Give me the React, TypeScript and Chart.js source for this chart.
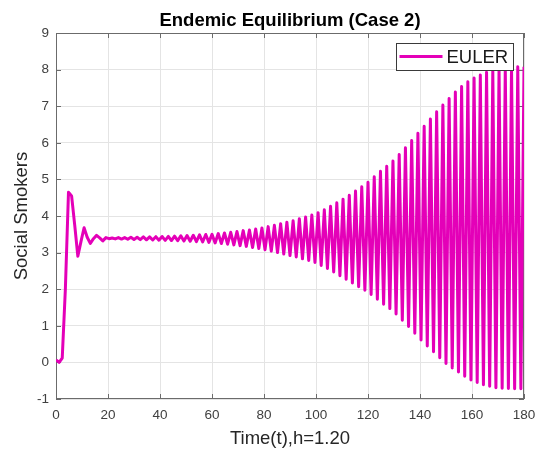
import React, { useEffect, useRef } from "react";
import { Chart, registerables } from "chart.js";

Chart.register(...registerables);

// Euler step size used for the time grid
const STEP = 1.2;

// Social smokers S(t) at t = 0, 1.2, 2.4, ... 180
const socialSmokers = [
  0.07, 0.0, 0.12, 2.0, 4.65, 4.55, 3.75, 2.9, 3.3, 3.68,
  3.42, 3.25, 3.38, 3.47, 3.4, 3.32, 3.41, 3.38, 3.4, 3.375,
  3.41, 3.37, 3.41, 3.365, 3.42, 3.36, 3.42, 3.355, 3.43, 3.35,
  3.43, 3.345, 3.435, 3.34, 3.44, 3.335, 3.445, 3.33, 3.45, 3.325,
  3.46, 3.315, 3.465, 3.31, 3.475, 3.3, 3.485, 3.29, 3.495, 3.28,
  3.5, 3.265, 3.52, 3.25, 3.535, 3.23, 3.555, 3.21, 3.575, 3.19,
  3.6, 3.17, 3.62, 3.14, 3.645, 3.11, 3.675, 3.08, 3.71, 3.04,
  3.745, 3.0, 3.79, 2.96, 3.83, 2.92, 3.87, 2.88, 3.925, 2.83,
  3.97, 2.785, 4.025, 2.73, 4.09, 2.65, 4.17, 2.565, 4.265, 2.47,
  4.36, 2.37, 4.46, 2.27, 4.565, 2.17, 4.68, 2.07, 4.8, 1.97,
  4.92, 1.855, 5.07, 1.725, 5.22, 1.59, 5.36, 1.47, 5.5, 1.32,
  5.68, 1.15, 5.865, 0.98, 6.06, 0.795, 6.26, 0.61, 6.45, 0.45,
  6.65, 0.29, 6.85, 0.125, 7.035, -0.03, 7.21, -0.15, 7.385, -0.26,
  7.535, -0.38, 7.665, -0.48, 7.77, -0.55, 7.855, -0.61, 7.925, -0.65,
  7.97, -0.69, 8.02, -0.705, 8.05, -0.715, 8.065, -0.72, 8.075, -0.72,
  8.08,
];

const times = socialSmokers.map((_, i) => i * STEP);

const xTicks = [0, 20, 40, 60, 80, 100, 120, 140, 160, 180];
const yTicks = [-1, 0, 1, 2, 3, 4, 5, 6, 7, 8, 9];

const TITLE = "Endemic Equilibrium (Case 2)";
const X_LABEL = "Time(t),h=1.20";
const Y_LABEL = "Social Smokers";
const SERIES_NAME = "EULER";

const FONT = '"Liberation Sans", Arial, Helvetica, sans-serif';
const LINE_COLOR = "rgb(228,0,184)";
const AXIS_COLOR = "#6b6b6b";
const GRID_COLOR = "#e4e4e4";
const TEXT_COLOR = "#262626";
const TICK_TEXT = "#404040";

const axesFrame = {
  id: "axesFrame",
  beforeDatasetsDraw(chart: any) {
    const { ctx, chartArea } = chart;
    const { left, right, top, bottom } = chartArea;
    const xs = chart.scales.x;
    const ys = chart.scales.y;
    ctx.save();
    ctx.strokeStyle = AXIS_COLOR;
    ctx.lineWidth = 1;
    ctx.strokeRect(Math.round(left) + 0.5, Math.round(top) + 0.5, Math.round(right - left) - 1, Math.round(bottom - top) - 1);
    const len = 5;
    ctx.beginPath();
    xTicks.forEach((v) => {
      const px = Math.round(xs.getPixelForValue(v)) + 0.5;
      ctx.moveTo(px, bottom);
      ctx.lineTo(px, bottom - len);
      ctx.moveTo(px, top);
      ctx.lineTo(px, top + len);
    });
    yTicks.forEach((v) => {
      const py = Math.round(ys.getPixelForValue(v)) + 0.5;
      ctx.moveTo(left, py);
      ctx.lineTo(left + len, py);
      ctx.moveTo(right, py);
      ctx.lineTo(right - len, py);
    });
    ctx.stroke();
    ctx.restore();
  },
  afterDatasetsDraw(chart: any) {
    const { ctx, chartArea } = chart;
    const { left, right, top, bottom } = chartArea;
    const cx = (left + right) / 2;
    ctx.save();
    // title
    ctx.fillStyle = "#000";
    ctx.font = `bold 18.5px ${FONT}`;
    ctx.textAlign = "center";
    ctx.textBaseline = "middle";
    ctx.fillText(TITLE, cx, 21);
    // axis labels
    ctx.fillStyle = TEXT_COLOR;
    ctx.font = `18.5px ${FONT}`;
    ctx.fillText(X_LABEL, cx, 439);
    ctx.save();
    ctx.translate(22, (top + bottom) / 2);
    ctx.rotate(-Math.PI / 2);
    ctx.fillText(Y_LABEL, 0, 0);
    ctx.restore();
    // legend
    const bx = 396.5, by = 43.5, bw = 117, bh = 27;
    ctx.fillStyle = "#fff";
    ctx.fillRect(bx, by, bw, bh);
    ctx.strokeStyle = "#3a3a3a";
    ctx.lineWidth = 1;
    ctx.strokeRect(bx, by, bw, bh);
    ctx.strokeStyle = LINE_COLOR;
    ctx.lineWidth = 3;
    ctx.beginPath();
    ctx.moveTo(bx + 3, by + 13);
    ctx.lineTo(bx + 46, by + 13);
    ctx.stroke();
    ctx.fillStyle = "#1a1a1a";
    ctx.textAlign = "left";
    ctx.textBaseline = "middle";
    ctx.fillText(SERIES_NAME, bx + 50, by + 14);
    ctx.restore();
  },
};

export default function App() {
  const canvasRef = useRef<HTMLCanvasElement | null>(null);

  useEffect(() => {
    const canvas = canvasRef.current;
    if (!canvas) return;
    const chart = new Chart(canvas, {
      type: "line",
      data: {
        datasets: [
          {
            label: SERIES_NAME,
            data: times.map((t, i) => ({ x: t, y: socialSmokers[i] })),
            borderColor: LINE_COLOR,
            backgroundColor: LINE_COLOR,
            borderWidth: 3,
            pointRadius: 0,
            tension: 0,
            borderJoinStyle: "round",
            fill: false,
          },
        ],
      },
      options: {
        animation: false,
        responsive: false,
        devicePixelRatio: 1,
        layout: { padding: { top: 33, right: 21, left: 0, bottom: 0 } },
        plugins: {
          legend: { display: false },
          title: { display: false },
          tooltip: { enabled: false },
        },
        scales: {
          x: {
            type: "linear",
            min: 0,
            max: 180,
            afterFit: (s: any) => {
              s.height = 55;
            },
            ticks: {
              stepSize: 20,
              autoSkip: false,
              maxRotation: 0,
              padding: 8,
              color: TICK_TEXT,
              font: { family: FONT, size: 13.5 },
            },
            grid: { color: GRID_COLOR, drawTicks: false },
            border: { display: false },
          },
          y: {
            type: "linear",
            min: -1,
            max: 9,
            afterFit: (s: any) => {
              s.width = 56;
            },
            ticks: {
              stepSize: 1,
              autoSkip: false,
              padding: 7,
              color: TICK_TEXT,
              font: { family: FONT, size: 13.5 },
            },
            grid: { color: GRID_COLOR, drawTicks: false },
            border: { display: false },
          },
        },
      },
      plugins: [axesFrame],
    });
    return () => chart.destroy();
  }, []);

  return (
    <div style={{ position: "fixed", left: 0, top: 0, width: 545, height: 454, background: "#fff" }}>
      <canvas ref={canvasRef} width={545} height={454} style={{ display: "block" }} />
    </div>
  );
}
